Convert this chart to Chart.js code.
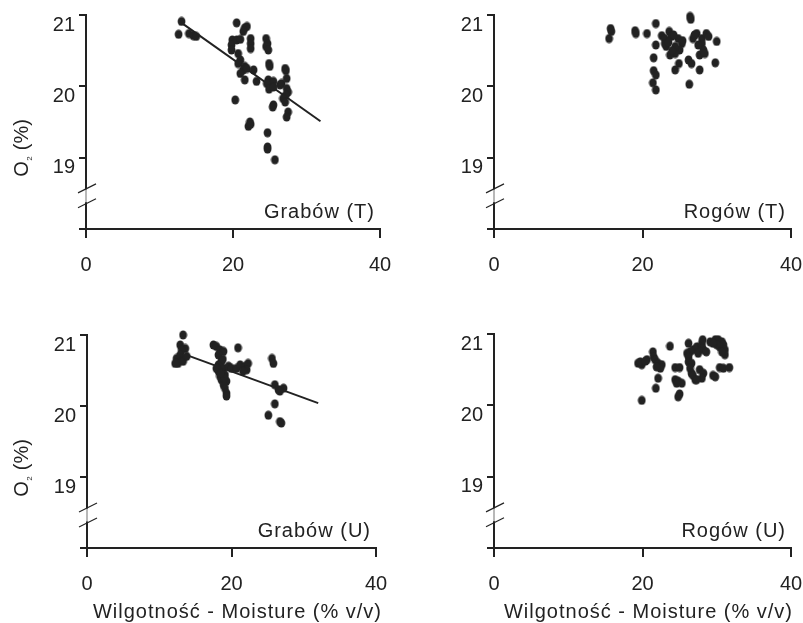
<!DOCTYPE html>
<html>
<head>
<meta charset="utf-8">
<script src="https://cdn.jsdelivr.net/npm/chart.js@4.4.1/dist/chart.umd.min.js"></script>
<style>
  body { margin: 0; background: #fff; }
  .wrap { position: relative; width: 803px; height: 623px; }
  canvas { position: absolute; }
</style>
</head>
<body>
<div class="wrap">
  <canvas id="c1" width="400" height="300" style="left:0;top:0"></canvas>
  <canvas id="c2" width="403" height="300" style="left:400px;top:0"></canvas>
  <canvas id="c3" width="400" height="313" style="left:0;top:310px"></canvas>
  <canvas id="c4" width="403" height="313" style="left:400px;top:310px"></canvas>
</div>
<script>
// axis ticks shared by all four panels
const xTickValues = [0, 20, 40];
const yTickValues = [18, 19, 20, 21];
const yTickLabels = ['', '19', '20', '21'];

const panelLabels = ['Grabów (T)', 'Rogów (T)', 'Grabów (U)', 'Rogów (U)'];
const xTitle = 'Wilgotność - Moisture (% v/v)';

// Grabów (T)
const grabowT_x = [13.0, 12.6, 14.0, 14.6, 15.0, 20.5, 21.6, 21.9, 21.4, 19.9, 19.8, 20.5, 21.0, 19.8, 20.7,
  21.0, 20.7, 22.4, 22.4, 22.4, 24.5, 24.7, 24.5, 24.8, 24.9, 25.0, 21.6, 21.4, 21.0, 21.9, 22.8, 21.6,
  23.2, 24.8, 25.0, 25.5, 24.6, 24.9, 25.5, 26.4, 26.6, 27.1, 27.2, 27.3, 27.3, 27.5, 27.2, 26.8, 27.1,
  25.5, 25.4, 27.5, 27.3, 20.3, 22.3, 22.1, 22.4, 24.7, 24.7, 24.7, 25.7];
const grabowT_y = [20.91, 20.73, 20.74, 20.71, 20.70, 20.89, 20.82, 20.84, 20.77, 20.65, 20.58, 20.65, 20.66, 20.51, 20.46,
  20.37, 20.32, 20.67, 20.60, 20.53, 20.67, 20.60, 20.56, 20.51, 20.32, 20.28, 20.28, 20.23, 20.18, 20.25, 20.23, 20.09,
  20.07, 20.09, 20.02, 20.07, 20.04, 19.96, 19.99, 20.02, 20.04, 20.25, 20.22, 20.11, 19.97, 19.92, 19.88, 19.83, 19.78,
  19.74, 19.71, 19.64, 19.57, 19.81, 19.50, 19.44, 19.47, 19.35, 19.15, 19.12, 18.97];
const grabowT_fitX = [13.0, 31.9];
const grabowT_fitY = [20.89, 19.51];

// Rogów (T)
const rogowT_x = [15.5, 15.8, 15.7, 19.0, 19.1, 20.6, 21.8, 21.8, 21.5, 21.5, 21.8, 21.4, 21.8, 23.6, 22.6,
  23.0, 26.4, 26.5, 23.9, 24.8, 25.3, 25.0, 24.4, 23.7, 23.2, 23.0, 24.4, 24.2, 24.9, 24.4, 26.2, 26.6,
  26.3, 26.8, 27.3, 28.0, 28.6, 28.9, 28.0, 27.7, 28.2, 28.4, 27.7, 30.0, 29.8, 27.5, 25.4, 23.5, 27.0, 24.0];
const rogowT_y = [20.67, 20.77, 20.81, 20.78, 20.74, 20.74, 20.88, 20.58, 20.40, 20.22, 20.16, 20.05, 19.95, 20.77, 20.71,
  20.67, 20.98, 20.94, 20.70, 20.67, 20.60, 20.51, 20.46, 20.44, 20.56, 20.60, 20.56, 20.72, 20.32, 20.23, 20.37, 20.32,
  20.03, 20.67, 20.74, 20.67, 20.74, 20.70, 20.60, 20.44, 20.51, 20.46, 20.23, 20.63, 20.33, 20.58, 20.64, 20.62, 20.72, 20.50];

// Grabów (U)
const grabowU_x = [13.3, 12.9, 13.6, 13.1, 12.4, 12.9, 13.3, 12.6, 12.2, 13.3, 13.8, 17.5, 17.9, 18.4, 18.9,
  18.2, 20.9, 18.2, 18.6, 18.9, 18.2, 18.4, 18.6, 19.1, 19.3, 18.9, 19.1, 19.3, 19.3, 17.9, 19.6, 20.0,
  20.7, 21.2, 21.9, 22.3, 22.1, 21.6, 25.6, 25.8, 26.0, 26.5, 27.2, 26.7, 26.0, 25.1, 26.7, 26.9, 18.8, 19.0, 18.5];
const grabowU_y = [21.00, 20.86, 20.81, 20.79, 20.67, 20.72, 20.67, 20.60, 20.60, 20.63, 20.70, 20.86, 20.84, 20.79, 20.77,
  20.72, 20.82, 20.58, 20.63, 20.53, 20.49, 20.42, 20.37, 20.44, 20.35, 20.30, 20.25, 20.18, 20.14, 20.53, 20.56, 20.53,
  20.53, 20.58, 20.56, 20.60, 20.51, 20.49, 20.67, 20.60, 20.30, 20.23, 20.25, 20.21, 20.03, 19.87, 19.78, 19.76, 20.66, 20.40, 20.46];
const grabowU_fitX = [14.0, 32.0];
const grabowU_fitY = [20.71, 20.04];

// Rogów (U)
const rogowU_x = [19.4, 19.9, 19.7, 20.6, 20.4, 21.4, 21.5, 21.7, 22.1, 22.6, 22.4, 21.9, 23.7, 22.1, 21.8,
  19.9, 24.4, 25.0, 24.4, 24.8, 25.3, 24.6, 25.0, 24.8, 26.2, 26.0, 26.4, 26.2, 26.8, 27.3, 27.5, 28.2,
  28.0, 28.6, 28.0, 26.2, 26.6, 26.4, 26.6, 27.1, 26.8, 28.1, 29.1, 29.8, 30.2, 30.7, 30.9, 30.4, 30.0,
  31.1, 31.1, 30.7, 29.5, 27.7, 28.2, 28.0, 27.3, 29.5, 29.8, 30.4, 30.9, 31.7];
const rogowU_y = [20.59, 20.57, 20.61, 20.64, 20.62, 20.75, 20.68, 20.64, 20.59, 20.57, 20.52, 20.54, 20.83, 20.38, 20.24,
  20.07, 20.53, 20.53, 20.36, 20.34, 20.31, 20.31, 20.16, 20.12, 20.87, 20.73, 20.75, 20.68, 20.78, 20.82, 20.73, 20.78,
  20.82, 20.75, 20.87, 20.61, 20.59, 20.52, 20.45, 20.36, 20.42, 20.92, 20.89, 20.92, 20.92, 20.89, 20.85, 20.82, 20.85,
  20.78, 20.71, 20.75, 20.87, 20.50, 20.45, 20.38, 20.36, 20.42, 20.40, 20.53, 20.52, 20.53];

const ink = '#222';
const fontFamily = "'Liberation Sans', Arial, Helvetica, sans-serif";

Chart.defaults.font.family = fontFamily;
Chart.defaults.font.size = 20;
Chart.defaults.color = '#222';

// slightly oval marker, like the printed dots
const dot = document.createElement('canvas');
dot.width = 9;
dot.height = 10;
const dctx = dot.getContext('2d');
dctx.fillStyle = ink;
dctx.beginPath();
dctx.ellipse(4.5, 5, 3.9, 4.6, 0, 0, Math.PI * 2);
dctx.fill();

function zip(xs, ys) {
  return xs.map((x, i) => ({ x: x, y: ys[i] }));
}

// axis break, panel name and the axis titles
const panelDecor = {
  id: 'panelDecor',
  afterDraw(chart, args, opts) {
    const ctx = chart.ctx;
    const a = chart.chartArea;
    const y = chart.scales.y;
    ctx.save();

    const b1 = y.getPixelForValue(18.57);
    const b2 = y.getPixelForValue(18.36);
    ctx.strokeStyle = '#b8b8b8';
    ctx.lineWidth = 2;
    ctx.beginPath();
    ctx.moveTo(a.left, b1 + 1);
    ctx.lineTo(a.left, b2 - 1);
    ctx.stroke();
    ctx.strokeStyle = ink;
    ctx.lineWidth = 1.2;
    [b1, b2].forEach(by => {
      ctx.beginPath();
      ctx.moveTo(a.left - 8, by + 4.5);
      ctx.lineTo(a.left + 10, by - 4.5);
      ctx.stroke();
    });

    ctx.fillStyle = '#222';
    ctx.font = '20px ' + fontFamily;
    ctx.letterSpacing = '1px';
    ctx.textBaseline = 'alphabetic';
    ctx.textAlign = 'right';
    ctx.fillText(opts.label, a.right - 5, a.bottom - 11);

    if (opts.xTitle) {
      ctx.textAlign = 'center';
      ctx.fillText(xTitle, (a.left + a.right) / 2 + 6, a.bottom + 70);
    }

    if (opts.yTitle) {
      ctx.letterSpacing = '0px';
      ctx.translate(28, a.top + 133);
      ctx.rotate(-Math.PI / 2);
      ctx.textAlign = 'left';
      const big = '20px ' + fontFamily;
      const small = '8px ' + fontFamily;
      ctx.font = big;
      const wO = ctx.measureText('O').width;
      const wRest = ctx.measureText(' (%)').width;
      ctx.font = small;
      const w2 = ctx.measureText('2').width + 1;
      let x0 = -(wO + w2 + wRest) / 2;
      ctx.font = big;
      ctx.fillText('O', x0, 0);
      ctx.font = small;
      ctx.fillText('2', x0 + wO + 0.5, 4);
      ctx.font = big;
      ctx.fillText(' (%)', x0 + wO + w2, 0);
    }
    ctx.restore();
  }
};

function makePanel(id, box, xs, ys, fitX, fitY, label, yTitle, withXTitle) {
  const canvas = document.getElementById(id);
  const datasets = [{
    data: zip(xs, ys),
    pointStyle: dot,
    pointRadius: 4,
    backgroundColor: ink,
    borderWidth: 0,
    clip: false
  }];
  if (fitX) {
    datasets.push({
      data: zip(fitX, fitY),
      showLine: true,
      pointRadius: 0,
      borderColor: ink,
      borderWidth: 2,
      clip: false
    });
  }
  return new Chart(canvas, {
    type: 'scatter',
    data: { datasets: datasets },
    plugins: [panelDecor],
    options: {
      responsive: false,
      animation: false,
      events: [],
      layout: { padding: { top: box.top, right: canvas.width - box.right, left: 0, bottom: 0 } },
      plugins: {
        legend: { display: false },
        tooltip: { enabled: false },
        panelDecor: { label: label, yTitle: yTitle, xTitle: withXTitle }
      },
      scales: {
        x: {
          type: 'linear',
          min: 0,
          max: 40,
          afterBuildTicks: s => { s.ticks = xTickValues.map(v => ({ value: v })); },
          afterFit: s => { s.height = canvas.height - box.bottom; s.paddingLeft = 0; s.paddingRight = 0; },
          grid: { drawOnChartArea: false, tickLength: 9, color: ink, lineWidth: 2 },
          border: { color: ink, width: 2 },
          ticks: { padding: 15, maxRotation: 0, autoSkip: false }
        },
        y: {
          type: 'linear',
          min: 18,
          max: 21,
          afterBuildTicks: s => { s.ticks = yTickValues.map(v => ({ value: v })); },
          afterFit: s => { s.width = box.left; s.paddingTop = 0; s.paddingBottom = 0; },
          grid: { drawOnChartArea: false, tickLength: 7, color: ink, lineWidth: 2 },
          border: { color: ink, width: 2 },
          ticks: {
            padding: 4,
            labelOffset: 10,
            autoSkip: false,
            callback: (v, i) => yTickLabels[i]
          }
        }
      }
    }
  });
}

makePanel('c1', { left: 86, right: 380, top: 15, bottom: 229 }, grabowT_x, grabowT_y, grabowT_fitX, grabowT_fitY, panelLabels[0], true, false);
makePanel('c2', { left: 94, right: 391, top: 15, bottom: 229 }, rogowT_x, rogowT_y, null, null, panelLabels[1], false, false);
makePanel('c3', { left: 87, right: 376, top: 25, bottom: 238 }, grabowU_x, grabowU_y, grabowU_fitX, grabowU_fitY, panelLabels[2], true, true);
makePanel('c4', { left: 94, right: 391, top: 24, bottom: 238 }, rogowU_x, rogowU_y, null, null, panelLabels[3], false, true);
</script>
</body>
</html>
